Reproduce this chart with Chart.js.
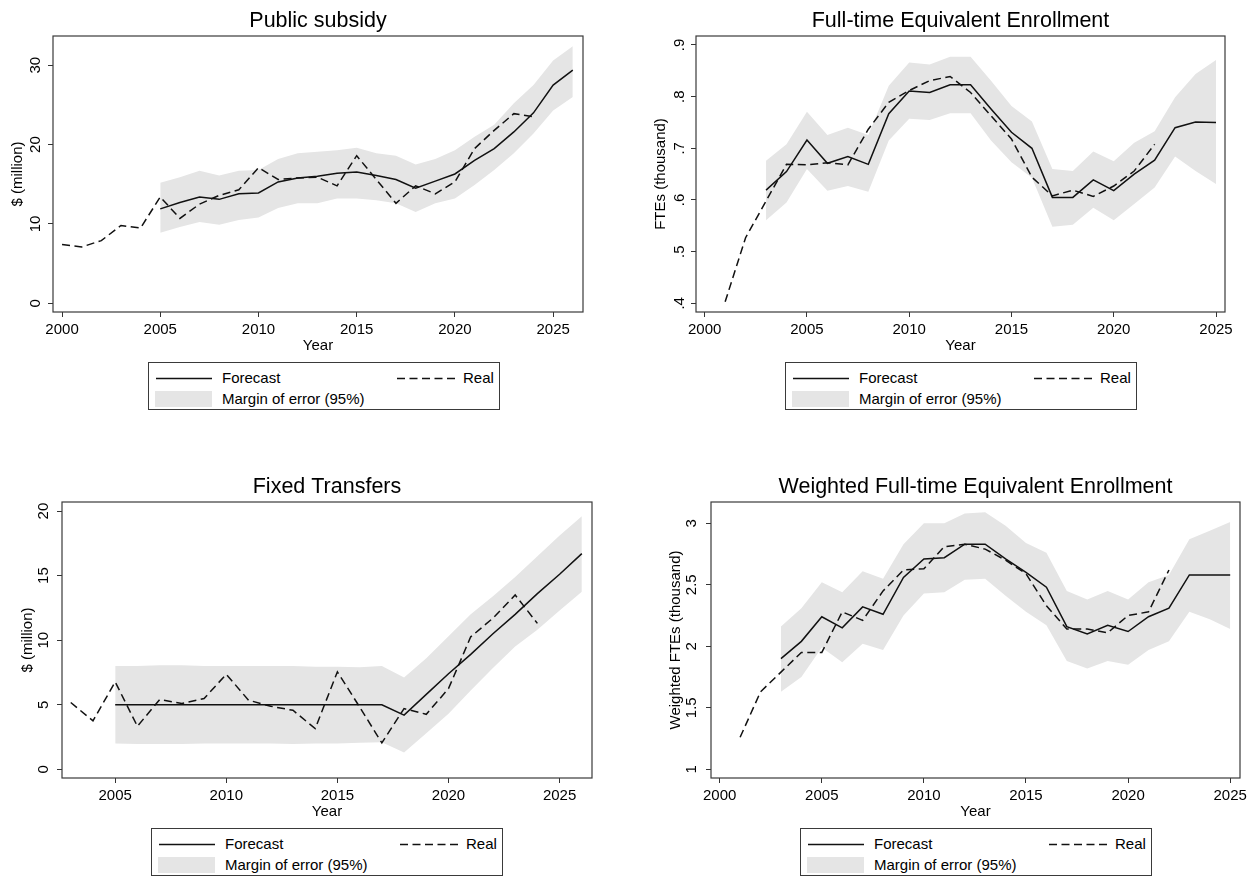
<!DOCTYPE html>
<html>
<head>
<meta charset="utf-8">
<title>Forecasts: subsidy, transfers and enrollment</title>
<script src="https://cdn.jsdelivr.net/npm/chart.js@4.4.1/dist/chart.umd.min.js"></script>
<style>
  html, body { margin: 0; padding: 0; background: #fff; }
  body { width: 1254px; height: 878px; position: relative; overflow: hidden;
         font-family: 'Liberation Sans', Arial, Helvetica, sans-serif; color: #000; }
  canvas { position: absolute; }
  .legend { position: absolute; box-sizing: border-box; width: 352px; height: 48px;
            border: 1px solid #3a3a3a; background: #fff; font-size: 15px; }
  .legend svg { position: absolute; left: 0; top: 0; }
  .legend span { position: absolute; height: 18px; line-height: 18px; white-space: nowrap; }
</style>
</head>
<body>
<canvas id="subsidy" width="615" height="362" style="left:0px;top:0px"></canvas>
<canvas id="fte" width="634" height="362" style="left:620px;top:0px"></canvas>
<canvas id="transfers" width="615" height="388" style="left:0px;top:440px"></canvas>
<canvas id="wfte" width="634" height="388" style="left:620px;top:440px"></canvas>

<script>
// ---- Public subsidy ($ million) ----
const subsidyRealYears = [2000, 2001, 2002, 2003, 2004, 2005, 2006, 2007, 2008, 2009, 2010, 2011, 2012,
                          2013, 2014, 2015, 2016, 2017, 2018, 2019, 2020, 2021, 2022, 2023, 2024];
const subsidyReal = [7.4, 7.1, 7.9, 9.8, 9.5, 13.4, 10.7, 12.5, 13.6, 14.3, 17.1, 15.6, 15.8,
                     15.9, 14.8, 18.6, 15.6, 12.6, 14.8, 13.8, 15.3, 19.5, 21.8, 23.9, 23.5];
const subsidyFcYears = [2005, 2006, 2007, 2008, 2009, 2010, 2011, 2012, 2013, 2014, 2015,
                        2016, 2017, 2018, 2019, 2020, 2021, 2022, 2023, 2024, 2025, 2026];
const subsidyForecast = [11.9, 12.7, 13.4, 13.1, 13.8, 13.9, 15.3, 15.8, 16.0, 16.4, 16.55,
                         16.1, 15.6, 14.5, 15.4, 16.3, 18.0, 19.5, 21.6, 24.0, 27.5, 29.4];
const subsidyUpper = [15.2, 15.9, 16.7, 16.1, 16.7, 16.8, 18.2, 18.9, 19.1, 19.3, 19.6,
                      18.9, 18.6, 17.5, 18.2, 19.3, 21.0, 22.5, 25.2, 27.5, 30.6, 32.4];
const subsidyLower = [8.9, 9.6, 10.25, 9.9, 10.5, 10.8, 12.0, 12.6, 12.6, 13.2, 13.2,
                      13.0, 12.6, 11.5, 12.6, 13.2, 14.9, 16.8, 18.9, 21.4, 24.3, 26.0];
const subsidyYTicks = [0, 10, 20, 30];
const subsidyYLabels = ['0', '10', '20', '30'];
const subsidyXTicks = [2000, 2005, 2010, 2015, 2020, 2025];

// ---- Full-time equivalent enrollment (thousand) ----
const fteRealYears = [2001, 2002, 2003, 2004, 2005, 2006, 2007, 2008, 2009, 2010, 2011,
                      2012, 2013, 2014, 2015, 2016, 2017, 2018, 2019, 2020, 2021, 2022];
const fteReal = [0.403, 0.527, 0.598, 0.669, 0.668, 0.672, 0.668, 0.737, 0.789, 0.812, 0.831,
                 0.839, 0.808, 0.763, 0.718, 0.644, 0.608, 0.619, 0.607, 0.627, 0.656, 0.708];
const fteFcYears = [2003, 2004, 2005, 2006, 2007, 2008, 2009, 2010, 2011, 2012, 2013, 2014,
                    2015, 2016, 2017, 2018, 2019, 2020, 2021, 2022, 2023, 2024, 2025];
const fteForecast = [0.619, 0.655, 0.716, 0.671, 0.684, 0.669, 0.767, 0.811, 0.808, 0.823, 0.823, 0.776,
                     0.731, 0.700, 0.605, 0.605, 0.639, 0.618, 0.650, 0.677, 0.740, 0.751, 0.750];
const fteUpper = [0.676, 0.708, 0.771, 0.726, 0.740, 0.726, 0.821, 0.866, 0.862, 0.877, 0.877, 0.831,
                  0.782, 0.752, 0.660, 0.656, 0.694, 0.675, 0.711, 0.733, 0.799, 0.844, 0.871];
const fteLower = [0.561, 0.595, 0.660, 0.618, 0.627, 0.616, 0.715, 0.757, 0.755, 0.768, 0.768, 0.715,
                  0.673, 0.643, 0.548, 0.552, 0.585, 0.561, 0.592, 0.624, 0.684, 0.656, 0.631];
const fteYTicks = [0.4, 0.5, 0.6, 0.7, 0.8, 0.9];
const fteYLabels = ['.4', '.5', '.6', '.7', '.8', '.9'];
const fteXTicks = [2000, 2005, 2010, 2015, 2020, 2025];

// ---- Fixed transfers ($ million) ----
const transfersRealYears = [2003, 2004, 2005, 2006, 2007, 2008, 2009, 2010, 2011, 2012, 2013,
                            2014, 2015, 2016, 2017, 2018, 2019, 2020, 2021, 2022, 2023, 2024];
const transfersReal = [5.17, 3.75, 6.77, 3.33, 5.4, 5.1, 5.48, 7.36, 5.35, 4.88, 4.57,
                       3.15, 7.55, 4.83, 2.04, 4.7, 4.26, 6.25, 10.26, 11.7, 13.5, 11.3];
const transfersFcYears = [2005, 2006, 2007, 2008, 2009, 2010, 2011, 2012, 2013, 2014, 2015,
                          2016, 2017, 2018, 2019, 2020, 2021, 2022, 2023, 2024, 2025, 2026];
const transfersForecast = [5.0, 5.0, 5.0, 5.0, 5.0, 5.0, 5.0, 5.0, 5.0, 5.0, 5.0,
                           5.0, 5.0, 4.2, 5.8, 7.4, 8.9, 10.5, 12.0, 13.6, 15.1, 16.7];
const transfersUpper = [8.0, 8.0, 8.05, 8.05, 8.0, 8.0, 8.0, 8.0, 8.0, 7.95, 7.95,
                        7.9, 8.0, 7.1, 8.6, 10.3, 12.0, 13.4, 14.9, 16.5, 18.1, 19.6];
const transfersLower = [2.0, 1.95, 1.95, 1.95, 2.0, 2.0, 2.0, 2.0, 1.95, 2.0, 2.0,
                        2.05, 2.1, 1.3, 2.8, 4.3, 6.1, 7.85, 9.5, 10.8, 12.3, 13.75];
const transfersYTicks = [0, 5, 10, 15, 20];
const transfersYLabels = ['0', '5', '10', '15', '20'];
const transfersXTicks = [2005, 2010, 2015, 2020, 2025];

// ---- Weighted full-time equivalent enrollment (thousand) ----
const wfteRealYears = [2001, 2002, 2003, 2004, 2005, 2006, 2007, 2008, 2009, 2010, 2011,
                       2012, 2013, 2014, 2015, 2016, 2017, 2018, 2019, 2020, 2021, 2022];
const wfteReal = [1.26, 1.63, 1.79, 1.95, 1.95, 2.28, 2.21, 2.45, 2.62, 2.63, 2.81,
                  2.83, 2.79, 2.70, 2.59, 2.33, 2.14, 2.14, 2.11, 2.25, 2.28, 2.62];
const wfteFcYears = [2003, 2004, 2005, 2006, 2007, 2008, 2009, 2010, 2011, 2012, 2013, 2014,
                     2015, 2016, 2017, 2018, 2019, 2020, 2021, 2022, 2023, 2024, 2025];
const wfteForecast = [1.90, 2.04, 2.24, 2.15, 2.32, 2.26, 2.56, 2.71, 2.72, 2.83, 2.83, 2.71,
                      2.60, 2.48, 2.16, 2.10, 2.17, 2.12, 2.24, 2.31, 2.58, 2.58, 2.58];
const wfteUpper = [2.16, 2.31, 2.52, 2.44, 2.61, 2.55, 2.83, 3.0, 3.0, 3.08, 3.09, 2.98,
                   2.84, 2.76, 2.45, 2.38, 2.45, 2.38, 2.52, 2.58, 2.87, 2.94, 3.01];
const wfteLower = [1.63, 1.75, 1.99, 1.87, 2.02, 1.97, 2.25, 2.43, 2.44, 2.54, 2.55, 2.41,
                   2.28, 2.17, 1.88, 1.82, 1.88, 1.85, 1.97, 2.04, 2.28, 2.22, 2.14];
const wfteYTicks = [1, 1.5, 2, 2.5, 3];
const wfteYLabels = ['1', '1.5', '2', '2.5', '3'];
const wfteXTicks = [2000, 2005, 2010, 2015, 2020, 2025];

const FONT = "'Liberation Sans', Arial, Helvetica, sans-serif";
const INK = '#000';
const LINE = '#111';
const BAND = '#e5e5e5';
const AXIS = '#333';
const DASH = [8, 4.5];

Chart.defaults.font.family = FONT;
Chart.defaults.color = INK;

// Outline around the plot region, like a framed graph box
const plotFrame = {
  id: 'plotFrame',
  afterDatasetsDraw(chart) {
    const { ctx, chartArea: a } = chart;
    ctx.save();
    ctx.strokeStyle = '#3a3a3a';
    ctx.lineWidth = 1.2;
    ctx.strokeRect(a.left, a.top, a.right - a.left, a.bottom - a.top);
    ctx.restore();
  }
};

function toPoints(years, values) {
  return years.map((yr, i) => ({ x: yr, y: values[i] }));
}

function buildPanel(p) {
  new Chart(document.getElementById(p.id), {
    type: 'line',
    data: {
      datasets: [
        { label: 'Forecast', data: toPoints(p.fcYears, p.forecast),
          borderColor: LINE, borderWidth: 1.5, pointRadius: 0, fill: false, tension: 0 },
        { label: 'Real', data: toPoints(p.realYears, p.real),
          borderColor: LINE, borderWidth: 1.5, borderDash: DASH, pointRadius: 0, fill: false, tension: 0 },
        { label: 'lower', data: toPoints(p.fcYears, p.lower),
          borderColor: 'rgba(0,0,0,0)', borderWidth: 0, pointRadius: 0, fill: false },
        { label: 'Margin of error (95%)', data: toPoints(p.fcYears, p.upper),
          borderColor: 'rgba(0,0,0,0)', borderWidth: 0, pointRadius: 0, fill: 2, backgroundColor: BAND }
      ]
    },
    options: {
      responsive: false,
      animation: false,
      devicePixelRatio: 1,
      layout: { padding: { left: 0, right: p.padRight, top: 0, bottom: 0 } },
      plugins: {
        legend: { display: false },
        tooltip: { enabled: false },
        filler: { drawTime: 'beforeDatasetsDraw' },
        title: {
          display: true, text: p.title, fullSize: false, color: INK,
          font: { family: FONT, size: 21.5, weight: 'normal' },
          padding: { top: p.titleTop, bottom: p.titleBottom }
        }
      },
      scales: {
        x: {
          type: 'linear', min: p.xMin, max: p.xMax,
          afterBuildTicks: s => { s.ticks = p.xTicks.map(v => ({ value: v })); },
          afterFit: s => { s.height = 50; },
          ticks: { callback: v => String(v), font: { size: 15 }, color: INK, padding: 3.5,
                   minRotation: 0, maxRotation: 0, autoSkip: false },
          grid: { drawOnChartArea: false, drawTicks: true, tickLength: 5, color: AXIS, lineWidth: 1 },
          border: { display: false },
          title: { display: true, text: 'Year', color: INK, font: { size: 15 }, padding: { top: 0, bottom: 7.5 } }
        },
        y: {
          type: 'linear', min: p.yMin, max: p.yMax,
          afterBuildTicks: s => { s.ticks = p.yTicks.map(v => ({ value: v })); },
          afterFit: s => { s.width = p.yWidth; },
          ticks: { callback: (v, i) => p.yLabels[i], font: { size: 15 }, color: INK, padding: p.yPad,
                   minRotation: 90, maxRotation: 90, crossAlign: 'center', autoSkip: false },
          grid: { drawOnChartArea: false, drawTicks: true, tickLength: 5, color: AXIS, lineWidth: 1 },
          border: { display: false },
          title: { display: true, text: p.yTitle, color: INK, font: { size: 15 }, padding: { top: p.yTitlePad, bottom: 0 } }
        }
      }
    },
    plugins: [plotFrame]
  });
}

// Two-column key under each graph: Forecast / Real, then the shaded band
function buildLegend(left, top) {
  const box = document.createElement('div');
  box.className = 'legend';
  box.style.left = left + 'px';
  box.style.top = top + 'px';
  box.innerHTML =
    '<svg width="352" height="48" xmlns="http://www.w3.org/2000/svg">' +
      '<line x1="7" y1="15.5" x2="63" y2="15.5" stroke="' + LINE + '" stroke-width="1.5"/>' +
      '<line x1="248" y1="15.5" x2="306" y2="15.5" stroke="' + LINE + '" stroke-width="1.5" stroke-dasharray="' + DASH.join(' ') + '"/>' +
      '<rect x="6" y="28" width="57" height="16" fill="' + BAND + '"/>' +
    '</svg>' +
    '<span style="left:73px;top:6px">Forecast</span>' +
    '<span style="left:314px;top:6px">Real</span>' +
    '<span style="left:73px;top:27px">Margin of error (95%)</span>';
  document.body.appendChild(box);
}

buildPanel({
  id: 'subsidy', title: 'Public subsidy', yTitle: '$ (million)',
  realYears: subsidyRealYears, real: subsidyReal,
  fcYears: subsidyFcYears, forecast: subsidyForecast, upper: subsidyUpper, lower: subsidyLower,
  xTicks: subsidyXTicks, yTicks: subsidyYTicks, yLabels: subsidyYLabels,
  xMin: 1999.54, xMax: 2026.52, yMin: -1.10, yMax: 33.69,
  yWidth: 53, padRight: 32, titleTop: 8.6, titleBottom: 1.6, yPad: 3.5, yTitlePad: 9
});
buildPanel({
  id: 'fte', title: 'Full-time Equivalent Enrollment', yTitle: 'FTEs (thousand)',
  realYears: fteRealYears, real: fteReal,
  fcYears: fteFcYears, forecast: fteForecast, upper: fteUpper, lower: fteLower,
  xTicks: fteXTicks, yTicks: fteYTicks, yLabels: fteYLabels,
  xMin: 1999.575, xMax: 2025.44, yMin: 0.3832, yMax: 0.9174,
  yWidth: 76, padRight: 29, titleTop: 8.6, titleBottom: 1.6, yPad: 4.75, yTitlePad: 32
});
buildPanel({
  id: 'transfers', title: 'Fixed Transfers', yTitle: '$ (million)',
  realYears: transfersRealYears, real: transfersReal,
  fcYears: transfersFcYears, forecast: transfersForecast, upper: transfersUpper, lower: transfersLower,
  xTicks: transfersXTicks, yTicks: transfersYTicks, yLabels: transfersYLabels,
  xMin: 2002.606, xMax: 2026.458, yMin: -0.674, yMax: 20.70,
  yWidth: 62, padRight: 23, titleTop: 34.1, titleBottom: 2.1, yPad: 4.5, yTitlePad: 19
});
buildPanel({
  id: 'wfte', title: 'Weighted Full-time Equivalent Enrollment', yTitle: 'Weighted FTEs (thousand)',
  realYears: wfteRealYears, real: wfteReal,
  fcYears: wfteFcYears, forecast: wfteForecast, upper: wfteUpper, lower: wfteLower,
  xTicks: wfteXTicks, yTicks: wfteYTicks, yLabels: wfteYLabels,
  xMin: 1999.574, xMax: 2025.48, yMin: 0.929, yMax: 3.173,
  yWidth: 91, padRight: 14, titleTop: 34.1, titleBottom: 2.1, yPad: 3.4, yTitlePad: 46.8
});

buildLegend(148, 362);
buildLegend(785, 362);
buildLegend(151, 828);
buildLegend(800, 828);
</script>
</body>
</html>
